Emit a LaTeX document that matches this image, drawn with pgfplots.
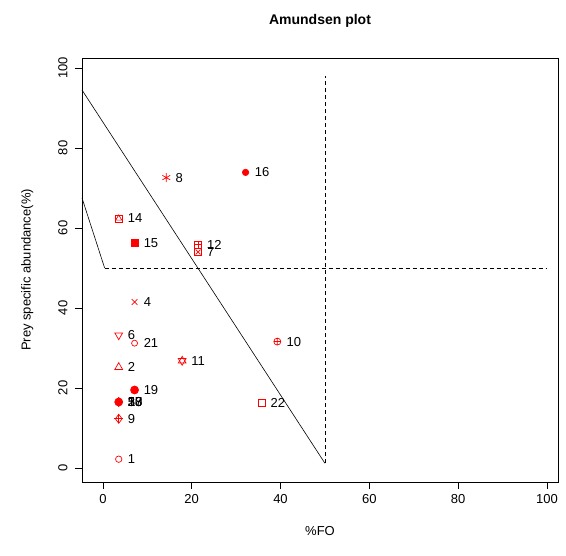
\documentclass[border=0pt]{standalone}
\usepackage{pgfplots}
\pgfplotsset{compat=1.18}
\usepackage{fontspec}
\setmainfont{Liberation Sans}
\usetikzlibrary{plotmarks}
\pgfplotsset{pt/.style={only marks, red, mark options={solid, red, line width=0.7pt}, line width=0.7pt}}
\begin{document}
\begin{tikzpicture}
\path[use as bounding box] (-82pt,-74pt) rectangle (484pt,482pt);
\begin{axis}[
  scale only axis, width=476pt, height=424pt,
  xmin=-4.7, xmax=102.5, ymin=-3.5, ymax=102.5,
  xtick={0,20,...,100}, ytick={0,20,...,100},
  xtick pos=left, ytick pos=left, tick align=outside,
  major tick length=7pt, tick style={black, line width=0.6pt},
  axis line style={line width=0.6pt},
  /pgf/number format/assume math mode=true,
  ticklabel style={font=\fontsize{13}{15}\selectfont},
  yticklabel style={rotate=90, anchor=south, yshift=4pt},
  xticklabel style={yshift=-2pt},
  title={\textbf{Amundsen plot}}, title style={font=\fontsize{14}{16}\selectfont, yshift=21pt},
  xlabel={\%FO}, ylabel={Prey specific abundance(\%)},
  label style={font=\fontsize{13}{15}\selectfont},
  xlabel style={yshift=-16pt}, ylabel style={yshift=18pt},
  clip=false,
]
% reference lines
\addplot[black, no marks, line width=0.6pt] coordinates {(-4.7,94.5) (50,1.2)};
\addplot[black, no marks, line width=0.6pt] coordinates {(-4.7,67.5) (0.4,50)};
\addplot[black, no marks, dash pattern=on 4pt off 3pt, line width=0.6pt] coordinates {(0.4,50) (100,50)};
\addplot[black, no marks, dash pattern=on 4pt off 3pt, line width=0.6pt] coordinates {(50,1.2) (50,98)};
% points
\addplot[pt, mark=o, mark size=3.2pt] coordinates {(3.57,2.2)}; % 1
\addplot[pt, mark=triangle, mark size=4.5pt] coordinates {(3.57,25.2)}; % 2
\addplot[pt, mark=*, mark size=4pt] coordinates {(3.57,16.5)}; % cluster
\addplot[pt, mark=diamond*, mark size=4.5pt] coordinates {(3.57,16.5)};
\addplot[pt, mark=x, mark size=4pt] coordinates {(7.14,41.5)}; % 4
\addplot[pt, mark=triangle, mark size=4.5pt, mark options={rotate=180}] coordinates {(3.57,33.2)}; % 6
\addplot[pt, mark=square, mark size=3.5pt] coordinates {(21.43,54.0)}; % 7
\addplot[pt, mark=x, mark size=3.5pt] coordinates {(21.43,54.0)};
\addplot[pt, mark=asterisk, mark size=4.5pt] coordinates {(14.29,72.6)}; % 8
\addplot[pt, mark=diamond, mark size=4.5pt] coordinates {(3.57,12.3)}; % 9
\addplot[pt, mark=+, mark size=4.5pt] coordinates {(3.57,12.3)};
\addplot[pt, mark=oplus, mark size=3.5pt] coordinates {(39.29,31.6)}; % 10
\addplot[pt, mark=triangle, mark size=4.5pt] coordinates {(17.86,26.8)}; % 11
\addplot[pt, mark=triangle, mark size=4.5pt, mark options={rotate=180}] coordinates {(17.86,26.8)};
\addplot[pt, mark=square, mark size=3.5pt] coordinates {(21.43,55.8)}; % 12
\addplot[pt, mark=+, mark size=3.5pt] coordinates {(21.43,55.8)};
\addplot[pt, mark=square, mark size=3.5pt] coordinates {(3.57,62.4)}; % 14
\addplot[pt, mark=triangle, mark size=3.5pt] coordinates {(3.57,62.4)};
\addplot[pt, mark=square*, mark size=3.5pt] coordinates {(7.14,56.2)}; % 15
\addplot[pt, mark=*, mark size=3.2pt] coordinates {(32.14,73.9)}; % 16
\addplot[pt, mark=*, mark size=4pt] coordinates {(7.14,19.5)}; % 19
\addplot[pt, mark=o, mark size=3pt] coordinates {(7.14,31.2)}; % 21
\addplot[pt, mark=square, mark size=3.5pt] coordinates {(35.71,16.3)}; % 22
% labels
\begin{scope}[every node/.style={anchor=west, font=\fontsize{13}{15}\selectfont, inner sep=0pt, xshift=9pt}]
\node at (axis cs:3.57,2.2) {1};
\node at (axis cs:3.57,25.2) {2};
\node at (axis cs:3.57,16.5) {3};
\node at (axis cs:3.57,16.5) {5};
\node at (axis cs:3.57,16.5) {13};
\node at (axis cs:3.57,16.5) {17};
\node at (axis cs:3.57,16.5) {18};
\node at (axis cs:3.57,16.5) {20};
\node at (axis cs:7.14,41.5) {4};
\node at (axis cs:3.57,33.2) {6};
\node at (axis cs:21.43,54.0) {7};
\node at (axis cs:14.29,72.6) {8};
\node at (axis cs:3.57,12.3) {9};
\node at (axis cs:39.29,31.6) {10};
\node at (axis cs:17.86,26.8) {11};
\node at (axis cs:21.43,55.8) {12};
\node at (axis cs:3.57,62.4) {14};
\node at (axis cs:7.14,56.2) {15};
\node at (axis cs:32.14,73.9) {16};
\node at (axis cs:7.14,19.5) {19};
\node at (axis cs:7.14,31.2) {21};
\node at (axis cs:35.71,16.3) {22};
\end{scope}
\end{axis}
\end{tikzpicture}
\end{document}
